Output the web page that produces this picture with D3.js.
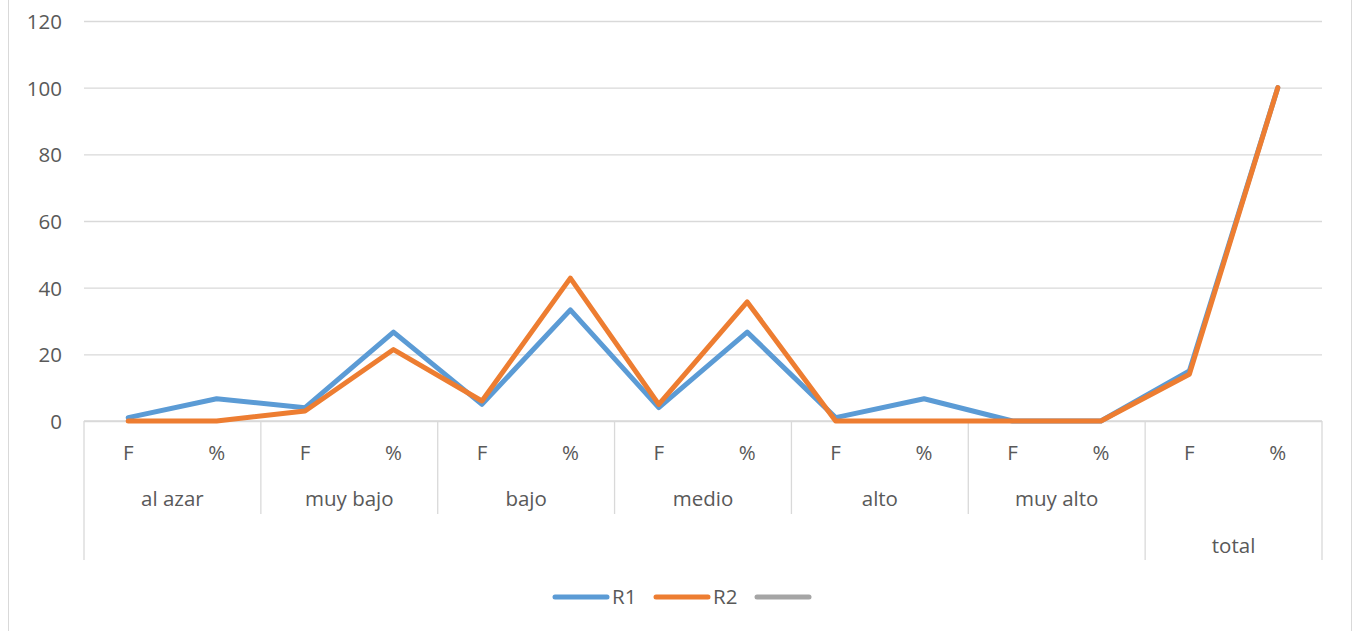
<!DOCTYPE html>
<html><head><meta charset="utf-8">
<script src="https://cdn.jsdelivr.net/npm/d3@7"></script>
<style>body{margin:0;background:#fff}svg{display:block}text{font-family:"Open Sans","Liberation Sans",sans-serif;fill:#595959}</style>
</head><body>
<script>
const groups = ["al azar","muy bajo","bajo","medio","alto","muy alto","total"];
const subLabels = ["F","%"];
const outerGroups = [{label:"", span:6},{label:"total", span:1}];
const r1 = [1,6.67, 4,26.67, 5,33.33, 4,26.67, 1,6.67, 0,0, 15,100];
const r2 = [0,0, 3,21.43, 6,42.86, 5,35.71, 0,0, 0,0, 14,100];
const yTicks = [0,20,40,60,80,100,120];
const seriesNames = ["R1","R2",""];
const colors = ["#5b9bd5","#ed7d31","#a5a5a5"];

const W=1356,H=631,FS="20.5px";
const svg=d3.select("body").append("svg").attr("width",W).attr("height",H);
svg.append("rect").attr("x",8.5).attr("y",-2).attr("width",1343).attr("height",H+10).attr("fill","#fff").attr("stroke","#d9d9d9").attr("stroke-width",1);

const mLeft=84,mRight=1322,mTop=21,mBottom=421;
const keys=[];groups.forEach(g=>subLabels.forEach(s=>keys.push(g+"|"+s)));
const x=d3.scaleBand().domain(keys).range([mLeft,mRight]);
const y=d3.scaleLinear().domain([0,120]).range([mBottom,mTop]);

const yAxis=d3.axisLeft(y).tickValues(yTicks).tickSize(-(mRight-mLeft)).tickPadding(22);
const ga=svg.append("g").attr("transform",`translate(${mLeft},0)`).call(yAxis).attr("font-family",null).attr("font-size",null);
ga.select(".domain").remove();
ga.selectAll("line").attr("stroke","#d9d9d9").attr("stroke-width",1.3);
ga.selectAll("text").style("font-size",FS).attr("fill","#595959").attr("dy","0.36em");

const gx=svg.append("g");
const bw=x.bandwidth();
gx.selectAll("text.sub").data(keys).join("text").attr("class","sub")
 .attr("x",d=>x(d)+bw/2).attr("y",460).attr("text-anchor","middle").style("font-size",FS)
 .text(d=>d.split("|")[1]);
gx.selectAll("text.grp").data(groups.slice(0,6)).join("text").attr("class","grp")
 .attr("x",(d)=>x(d+"|F")+bw).attr("y",506).attr("text-anchor","middle").style("font-size",FS).text(d=>d);
let idx=0;
outerGroups.forEach(o=>{
  const x0=x(groups[idx]+"|F"), x1=x(groups[idx+o.span-1]+"|%")+bw;
  gx.append("text").attr("x",(x0+x1)/2).attr("y",553).attr("text-anchor","middle").style("font-size",FS).text(o.label);
  idx+=o.span;
});
const lc="#d9d9d9";
gx.append("line").attr("x1",mLeft).attr("x2",mRight).attr("y1",mBottom).attr("y2",mBottom).attr("stroke",lc).attr("stroke-width",1.3);
groups.forEach((g,i)=>{
  const xx=x(g+"|F");
  const long=(i===0||i===6);
  gx.append("line").attr("x1",xx).attr("x2",xx).attr("y1",mBottom).attr("y2",long?560:514).attr("stroke",lc).attr("stroke-width",1.3);
});
gx.append("line").attr("x1",mRight).attr("x2",mRight).attr("y1",mBottom).attr("y2",560).attr("stroke",lc).attr("stroke-width",1.3);

const line=d3.line().x((d,i)=>x(keys[i])+bw/2).y(d=>y(d));
[r1,r2].forEach((s,i)=>{
  svg.append("path").datum(s).attr("d",line).attr("fill","none").attr("stroke",colors[i]).attr("stroke-width",5).attr("stroke-linejoin","round").attr("stroke-linecap","round");
});

const lx=[553,654,755];
seriesNames.forEach((n,i)=>{
  svg.append("line").attr("x1",lx[i]+2).attr("x2",lx[i]+54).attr("y1",597).attr("y2",597).attr("stroke",colors[i]).attr("stroke-width",5).attr("stroke-linecap","round");
  if(n) svg.append("text").attr("x",lx[i]+59).attr("y",604).style("font-size",FS).text(n);
});
</script>
</body></html>
